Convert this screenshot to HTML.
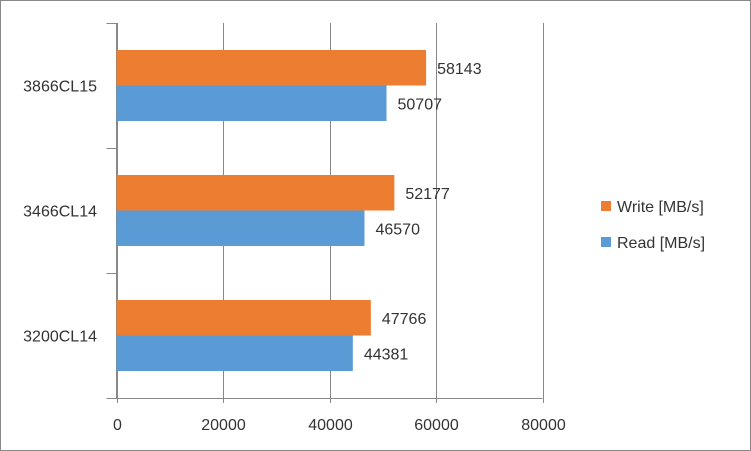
<!DOCTYPE html>
<html><head><meta charset="utf-8"><style>
html,body{margin:0;padding:0;background:#fff}
svg{display:block;font-family:"Liberation Sans",sans-serif}
</style></head><body>
<svg width="751" height="451">
<rect x="0.5" y="0.5" width="750" height="450" fill="#fff" stroke="#888"/>
<g id="grid"></g><g id="bars"></g><g id="labels"></g>
<g>
<rect x="601" y="201" width="10" height="10" fill="#ED7D31"/>
<text x="617" y="212" font-size="16" fill="#333">Write [MB/s]</text>
<rect x="601" y="237" width="10" height="10" fill="#5B9BD5"/>
<text x="617" y="248" font-size="16" fill="#333">Read [MB/s]</text>
</g>
</svg>
<script>
const categories=["3866CL15","3466CL14","3200CL14"];
const writeVals=[58143,52177,47766];
const readVals=[50707,46570,44381];
const ticks=[0,20000,40000,60000,80000];
const NS="http://www.w3.org/2000/svg";
const x0=116.5,x1=542.5,yTop=23,yBottom=398,xmax=80000;
const xs=v=>x0+(v/xmax)*(x1-x0);
const band=(yBottom-yTop)/categories.length;
function mk(t,a,p){const e=document.createElementNS(NS,t);for(const k in a)e.setAttribute(k,a[k]);p.appendChild(e);return e;}
const g=document.getElementById('grid'),b=document.getElementById('bars'),l=document.getElementById('labels');
ticks.forEach(t=>{const x=Math.round(xs(t))+0.5;
 const ln=mk('line',{x1:x,x2:x,y1:yTop,y2:yBottom+5,stroke:'#888','stroke-width':1},g);
 
 
 const tx=mk('text',{x:x,y:430,'font-size':16,fill:'#333','text-anchor':'middle'},l);tx.textContent=t;
 
 
});
const ax=mk('line',{x1:x0,x2:x0,y1:yTop,y2:yBottom,stroke:'#888'},g);


const xa=mk('line',{x1:x0-10,x2:x1,y1:yBottom+0.5,y2:yBottom+0.5,stroke:'#888'},g);


for(let i=0;i<=categories.length;i++){const y=Math.round(yTop+i*band)+0.5;
 const tk=mk('line',{x1:x0-10,x2:x0,y1:y,y2:y,stroke:'#888'},g);
 
 }
const bh=35.5;
categories.forEach((c,i)=>{const cy=yTop+i*band+band/2;
 const ct=mk('text',{x:97,y:cy+6,'font-size':16,fill:'#333','text-anchor':'end'},l);ct.textContent=c;
 
 
 [[writeVals[i],'#ED7D31',cy-bh,'write'],[readVals[i],'#5B9BD5',cy,'read']].forEach(([v,col,y,n])=>{
  const r=mk('rect',{x:x0,y:y,width:xs(v)-x0,height:bh,fill:col},b);
  
  
  const t=mk('text',{x:xs(v)+11,y:y+bh/2+6,'font-size':16,fill:'#333'},l);t.textContent=v;
  
  
 });
});
</script>
</body></html>
